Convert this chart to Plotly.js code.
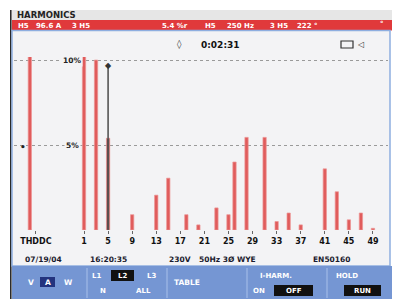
<!DOCTYPE html>
<html>
<head>
<meta charset="utf-8">
<script src="https://cdn.plot.ly/plotly-3.0.1.min.js"></script>
<style>html,body{margin:0;padding:0;background:#fff;}#chart{width:398px;height:299px;}</style>
</head>
<body>
<div id="chart"></div>
<script>
// ---- data (percent of fundamental) ----
const harmonics = [1, 3, 5, 9, 13, 15, 18, 20, 23, 25, 26, 28, 31, 33, 35, 37, 41, 43, 45, 47, 49];
const percentOfFund = [100, 10.0, 5.4, 0.9, 2.05, 3.05, 0.9, 0.3, 1.3, 0.9, 4.0, 5.45, 5.45, 0.5, 1.0, 0.3, 3.6, 2.25, 0.6, 1.0, 0.1];
const thdSlot = -8;
const thdPercent = 12;
const cursorH = 5;
const tickVals = [-7, 1, 5, 9, 13, 17, 21, 25, 29, 33, 37, 41, 45, 49];
const tickText = ['THDDC', '1', '5', '9', '13', '17', '21', '25', '29', '33', '37', '41', '45', '49'];
const gridVals = [5, 10];
const gridText = ['5%', '10%'];

// ---- helpers for pixel placed decorations ----
const W = 398, H = 299;
const P = x => x / W;
const Q = y => 1 - y / H;
const FONT = 'DejaVu Sans, sans-serif';
const screenBg = '#f3f3f5';

function rect(x0, y0, x1, y1, fill, line, lw) {
  return {type: 'rect', xref: 'paper', yref: 'paper', x0: P(x0), x1: P(x1), y0: Q(y1), y1: Q(y0),
    fillcolor: fill, line: {color: line || fill, width: lw === undefined ? 0 : lw}, layer: 'below'};
}
function txt(t, x, y, size, color, anchor, extra) {
  return Object.assign({text: '<b>' + t + '</b>', xref: 'paper', yref: 'paper', x: P(x), y: Q(y),
    xanchor: anchor || 'left', yanchor: 'middle', showarrow: false,
    font: {family: FONT, size: size, color: color}}, extra || {});
}

const shapes = [
  rect(10, 10, 11.6, 299, '#2a2a2a'),
  rect(12, 10, 392, 20, '#e6e6e6'),
  rect(12, 20, 392, 30.5, '#e0393b'),
  rect(12, 30.5, 390, 266, screenBg, '#8eaee0', 1.5),
  rect(12, 266, 392, 299, '#7596d3'),
  rect(40, 277, 55, 287, '#23337e'),
  rect(111, 270, 134, 281, '#111111'),
  rect(274, 285, 313, 296, '#111111'),
  rect(344, 285, 381, 296, '#111111'),
  rect(341, 41, 353, 48, 'rgba(0,0,0,0)', '#333', 1.2)
];
[87, 167, 247, 327].forEach(x => shapes.push({type: 'line', xref: 'paper', yref: 'paper',
  x0: P(x), x1: P(x), y0: Q(268), y1: Q(298), line: {color: '#a9c0ea', width: 1}}));
// cursor line at the selected harmonic
shapes.push({type: 'line', xref: 'x', yref: 'paper', x0: cursorH, x1: cursorH,
  y0: Q(230), y1: Q(68), line: {color: '#555', width: 1.6}});

const white = '#ffffff';
const annotations = [
  txt('HARMONICS', 15, 15.5, 8.5, '#222'),
  txt('H5', 16, 25.5, 7, white), txt('96.6 A', 34, 25.5, 7, white), txt('3 H5', 70, 25.5, 7, white),
  txt('5.4 %r', 160, 25.5, 7, white), txt('H5', 203, 25.5, 7, white), txt('250 Hz', 225, 25.5, 7, white),
  txt('3 H5', 268, 25.5, 7, white), txt('222 °', 295, 25.5, 7, white), txt('°', 378, 23.5, 7, white),
  txt('◊', 179, 44.5, 9, '#333', 'center'),
  txt('0:02:31', 199, 45, 9, '#111'),
  txt('◁', 355, 44.5, 8, '#333'),
  txt('•', 23, 147, 9, '#222', 'center'),
  txt('◆', 108, 66, 8, '#333', 'center'),
  txt('07/19/04', 23, 259, 7.5, '#1b1b2e'), txt('16:20:35', 88, 259, 7.5, '#1b1b2e'),
  txt('230V', 167, 259, 7.5, '#1b1b2e'), txt('50Hz 3Ø WYE', 197, 259, 7.5, '#1b1b2e'),
  txt('EN50160', 311, 259, 7.5, '#1b1b2e'),
  txt('V', 31, 282, 7.5, white, 'center'), txt('A', 47.5, 282, 7.5, white, 'center'), txt('W', 68, 282, 7.5, white, 'center'),
  txt('L1', 96, 275.5, 7, white, 'center'), txt('L2', 122.5, 275.5, 7, white, 'center'), txt('L3', 151, 275.5, 7, white, 'center'),
  txt('N', 103, 291, 7, white, 'center'), txt('ALL', 143, 291, 7, white, 'center'),
  txt('TABLE', 187, 282, 7.5, white, 'center'),
  txt('I-HARM.', 276, 275.5, 7, white, 'center'),
  txt('ON', 259, 291, 7, white, 'center'), txt('OFF', 293.5, 290.5, 7, white, 'center'),
  txt('HOLD', 347, 275.5, 7, white, 'center'), txt('RUN', 362.5, 290.5, 7, white, 'center')
];
// grid labels drawn through the y axis values
gridVals.forEach((v, i) => annotations.push({text: '<b>' + gridText[i] + '</b>', xref: 'paper', yref: 'y',
  x: P(72), y: v, xanchor: 'center', yanchor: 'middle', showarrow: false, bgcolor: screenBg,
  font: {family: FONT, size: 7.5, color: '#222'}}));

const barColors = harmonics.map(h => h === cursorH ? '#7d3434' : '#e05c5c');

const traces = [
  {type: 'bar', x: harmonics, y: percentOfFund, width: 0.55,
   marker: {color: barColors, line: {color: 'rgba(236,150,150,0.7)', width: 1}}, hoverinfo: 'skip'},
  {type: 'bar', x: [thdSlot], y: [thdPercent], width: 0.55,
   marker: {color: '#e05c5c', line: {color: 'rgba(236,150,150,0.7)', width: 1}}, hoverinfo: 'skip'}
];

const layout = {
  width: W, height: H,
  margin: {l: 0, r: 0, t: 0, b: 0},
  paper_bgcolor: '#ffffff', plot_bgcolor: screenBg,
  showlegend: false, barmode: 'overlay',
  xaxis: {domain: [P(14), P(388)], range: [-10.63, 51.5], fixedrange: true,
    tickmode: 'array', tickvals: tickVals, ticktext: tickText.map(t => '<b>' + t + '</b>'),
    ticks: 'outside', ticklen: 3, tickcolor: '#666', tickwidth: 1,
    tickfont: {family: FONT, size: 8, color: '#111'}, showgrid: false, zeroline: false, showline: false},
  yaxis: {domain: [Q(230), Q(57)], range: [0, 10.18], fixedrange: true,
    tickmode: 'array', tickvals: gridVals, showticklabels: false,
    showgrid: true, gridcolor: '#9a9a9a', griddash: 'dot', gridwidth: 1, zeroline: false, showline: false},
  shapes: shapes,
  annotations: annotations
};

Plotly.newPlot('chart', traces, layout, {displayModeBar: false, staticPlot: true});
</script>
</body>
</html>
